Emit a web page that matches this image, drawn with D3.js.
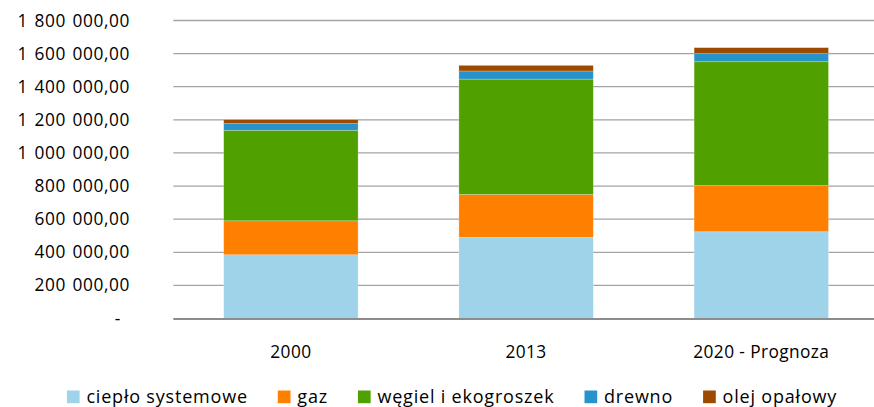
<!DOCTYPE html>
<html>
<head>
<meta charset="utf-8">
<script src="https://cdn.jsdelivr.net/npm/d3@7"></script>
<style>
  body { margin: 0; background: #fff; }
  svg { display: block; font-family: "Open Sans", Lato, sans-serif; }
</style>
</head>
<body>
<svg id="chart" width="874" height="407"></svg>
<script>
const categories = ["2000", "2013", "2020 - Prognoza"];
const seriesNames = ["ciepło systemowe", "gaz", "węgiel i ekogroszek", "drewno", "olej opałowy"];
const seriesColors = ["#9ed3ea", "#ff8000", "#50a000", "#2893c8", "#9c4a00"];
const cieploValues = [385000, 490000, 524000];
const gazValues = [205000, 259000, 279000];
const wegielValues = [547000, 697000, 748000];
const drewnoValues = [40000, 49000, 49000];
const olejValues = [24000, 34000, 36000];
const yTicks = [0, 200000, 400000, 600000, 800000, 1000000, 1200000, 1400000, 1600000, 1800000];

const svg = d3.select("#chart");

// table for the stack
const rows = categories.map((c, i) => ({
  cat: c,
  "ciepło systemowe": cieploValues[i],
  "gaz": gazValues[i],
  "węgiel i ekogroszek": wegielValues[i],
  "drewno": drewnoValues[i],
  "olej opałowy": olejValues[i]
}));
const stacked = d3.stack().keys(seriesNames)(rows);

const plotLeft = 173.3, plotRight = 878.9, plotTop = 20.5, plotBottom = 318.5;

const x = d3.scaleBand()
  .domain(categories)
  .range([plotLeft, plotRight])
  .paddingInner(0.4286)
  .paddingOuter(0.2143);

const y = d3.scaleLinear().domain([0, 1800000]).range([plotBottom, plotTop]);
const color = d3.scaleOrdinal().domain(seriesNames).range(seriesColors);

// format "1 800 000,00", zero shown as "-"
const fmt = v => v === 0 ? "-" : d3.format(",.2f")(v).replace(/,/g, " ").replace(".", ",");

// gridlines
svg.append("g")
  .selectAll("line")
  .data(yTicks.filter(t => t > 0))
  .join("line")
  .attr("x1", plotLeft).attr("x2", plotRight)
  .attr("y1", d => y(d)).attr("y2", d => y(d))
  .attr("stroke", "#a3a3a3")
  .attr("stroke-width", 1.3);

// y labels
svg.append("g")
  .selectAll("text")
  .data(yTicks)
  .join("text")
  .attr("x", d => d === 0 ? 121 : 130)
  .attr("y", d => y(d) + 6)
  .attr("text-anchor", "end")
  .attr("font-size", "17.3px")
  .attr("letter-spacing", "0.6px")
  .attr("word-spacing", "1.5px")
  .attr("fill", "#000")
  .text(fmt);

// bars
svg.append("g")
  .selectAll("g")
  .data(stacked)
  .join("g")
  .attr("fill", d => color(d.key))
  .selectAll("rect")
  .data(d => d)
  .join("rect")
  .attr("x", d => x(d.data.cat))
  .attr("width", x.bandwidth())
  .attr("y", d => y(d[1]))
  .attr("height", d => y(d[0]) - y(d[1]))
  .attr("stroke", "rgba(255,255,255,0.35)")
  .attr("stroke-width", 0.7);

// x axis line
svg.append("line")
  .attr("x1", plotLeft).attr("x2", plotRight)
  .attr("y1", y(0) + 0.5).attr("y2", y(0) + 0.5)
  .attr("stroke", "#8c8c8c")
  .attr("stroke-width", 2);

// x labels
svg.append("g")
  .selectAll("text")
  .data(categories)
  .join("text")
  .attr("x", d => x(d) + x.bandwidth() / 2)
  .attr("y", 358)
  .attr("text-anchor", "middle")
  .attr("font-size", "17.3px")
  .attr("letter-spacing", "0.4px")
  .text(d => d);

// legend
const legend = svg.append("g");
const items = legend.selectAll("g")
  .data(seriesNames)
  .join("g");

items.append("rect")
  .attr("width", 12.7).attr("height", 12.7)
  .attr("y", 390.5)
  .attr("fill", d => color(d));

items.append("text")
  .attr("x", 19.5)
  .attr("y", 403)
  .attr("font-size", "18px")
  .attr("letter-spacing", "0.8px")
  .text(d => d);

let pos = 0;
const offsets = [];
items.each(function () {
  offsets.push(pos);
  const w = d3.select(this).select("text").node().getComputedTextLength();
  pos += 19.5 + w + 30;
});
const totalW = pos - 30;
const startX = 452 - totalW / 2;
items.attr("transform", (d, i) => `translate(${startX + offsets[i]},0)`);
</script>
</body>
</html>
